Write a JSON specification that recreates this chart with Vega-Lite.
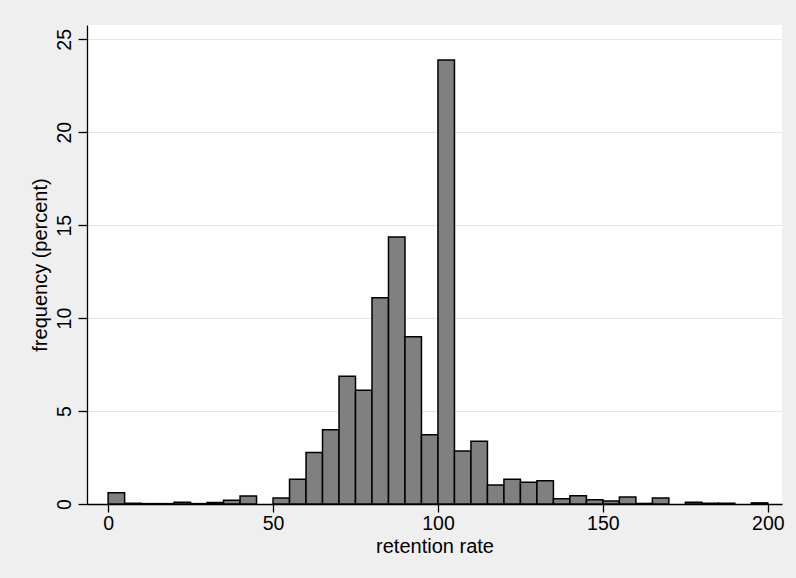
{
  "$schema": "https://vega.github.io/schema/vega-lite/v6.json",
  "autosize": {"type": "none"},
  "width": 695,
  "height": 479,
  "padding": {"left": 87, "top": 25, "right": 14, "bottom": 74},
  "background": "#efefef",
  "config": {
    "view": {"fill": "white", "stroke": null},
    "font": "Liberation Sans"
  },
  "data": {
    "values": [
      {"start": 0, "end": 5, "pct": 0.6},
      {"start": 5, "end": 10, "pct": 0.04},
      {"start": 10, "end": 15, "pct": 0.02},
      {"start": 15, "end": 20, "pct": 0.02},
      {"start": 20, "end": 25, "pct": 0.1},
      {"start": 25, "end": 30, "pct": 0.02},
      {"start": 30, "end": 35, "pct": 0.08},
      {"start": 35, "end": 40, "pct": 0.2},
      {"start": 40, "end": 45, "pct": 0.43},
      {"start": 50, "end": 55, "pct": 0.32},
      {"start": 55, "end": 60, "pct": 1.33},
      {"start": 60, "end": 65, "pct": 2.77},
      {"start": 65, "end": 70, "pct": 4.0},
      {"start": 70, "end": 75, "pct": 6.87},
      {"start": 75, "end": 80, "pct": 6.12},
      {"start": 80, "end": 85, "pct": 11.1},
      {"start": 85, "end": 90, "pct": 14.36},
      {"start": 90, "end": 95, "pct": 9.0},
      {"start": 95, "end": 100, "pct": 3.72},
      {"start": 100, "end": 105, "pct": 23.89},
      {"start": 105, "end": 110, "pct": 2.85},
      {"start": 110, "end": 115, "pct": 3.38},
      {"start": 115, "end": 120, "pct": 1.02},
      {"start": 120, "end": 125, "pct": 1.33},
      {"start": 125, "end": 130, "pct": 1.17},
      {"start": 130, "end": 135, "pct": 1.25},
      {"start": 135, "end": 140, "pct": 0.28},
      {"start": 140, "end": 145, "pct": 0.45},
      {"start": 145, "end": 150, "pct": 0.23},
      {"start": 150, "end": 155, "pct": 0.16},
      {"start": 155, "end": 160, "pct": 0.37},
      {"start": 160, "end": 165, "pct": 0.03},
      {"start": 165, "end": 170, "pct": 0.32},
      {"start": 175, "end": 180, "pct": 0.1},
      {"start": 180, "end": 185, "pct": 0.04},
      {"start": 185, "end": 190, "pct": 0.04},
      {"start": 195, "end": 200, "pct": 0.06}
    ]
  },
  "mark": {"type": "rect", "fill": "#808080", "stroke": "#000000", "strokeWidth": 1.5},
  "encoding": {
    "x": {
      "field": "start",
      "type": "quantitative",
      "scale": {"domain": [-6.4, 204.3], "nice": false, "zero": false},
      "axis": {
        "values": [0, 50, 100, 150, 200],
        "title": "retention rate",
        "grid": false,
        "domainColor": "#000000",
        "domainWidth": 1.3,
        "tickColor": "#000000",
        "tickWidth": 1.3,
        "tickSize": 8,
        "labelFontSize": 19.5,
        "labelColor": "#000000",
        "labelPadding": 2,
        "titleFontSize": 20,
        "titleFontWeight": "normal",
        "titleColor": "#000000",
        "titlePadding": 4
      }
    },
    "x2": {"field": "end"},
    "y": {
      "field": "pct",
      "type": "quantitative",
      "scale": {"domain": [0, 25.77], "nice": false},
      "axis": {
        "values": [0, 5, 10, 15, 20, 25],
        "title": "frequency (percent)",
        "grid": true,
        "gridColor": "#e6e6e6",
        "gridWidth": 1.2,
        "domainColor": "#000000",
        "domainWidth": 1.3,
        "tickColor": "#000000",
        "tickWidth": 1.3,
        "tickSize": 9,
        "labelAngle": 270,
        "labelAlign": "center",
        "labelBaseline": "alphabetic",
        "labelFontSize": 19.5,
        "labelColor": "#000000",
        "labelPadding": 8,
        "titleFontSize": 20,
        "titleFontWeight": "normal",
        "titleColor": "#000000",
        "titlePadding": 4
      }
    },
    "y2": {"datum": 0}
  }
}
